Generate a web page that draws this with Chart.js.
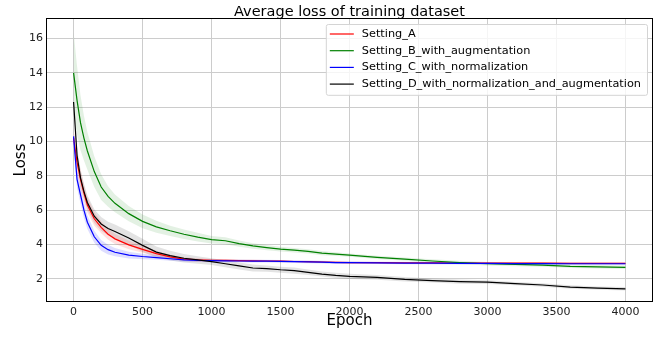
<!DOCTYPE html>
<html>
<head>
<meta charset="utf-8">
<script src="https://cdn.jsdelivr.net/npm/chart.js@4/dist/chart.umd.min.js"></script>
<style>
  html, body { margin: 0; padding: 0; background: #fff; }
</style>
</head>
<body>
<canvas id="lossChart" width="661" height="337"></canvas>
<script>
// values
const epochs = [0, 25, 50, 75, 100, 150, 200, 250, 300,
    400, 500, 600, 700, 800, 900, 1000, 1100, 1200, 1300, 1400, 1500, 1600, 1700, 1800, 1900, 2000,
    2200, 2400, 2600, 2800, 3000, 3200, 3400, 3600, 3800, 4000];

const lossA = [10.2, 8.8, 7.8, 7.0, 6.3, 5.5, 5.0, 4.6, 4.33,
    3.98, 3.72, 3.47, 3.28, 3.15, 3.1, 3.08, 3.07, 3.06, 3.05, 3.04, 3.03, 3.01, 3.0, 2.98, 2.96, 2.95,
    2.94, 2.93, 2.93, 2.92, 2.92, 2.91, 2.91, 2.9, 2.9, 2.9];
const lossB = [14.0, 12.4, 11.1, 10.2, 9.45, 8.25, 7.35, 6.8, 6.4,
    5.8, 5.35, 5.03, 4.8, 4.6, 4.43, 4.28, 4.22, 4.05, 3.92, 3.82, 3.73, 3.67, 3.6, 3.5, 3.44, 3.38,
    3.25, 3.15, 3.04, 2.95, 2.88, 2.84, 2.8, 2.73, 2.7, 2.67];
const lossC = [10.3, 7.8, 6.9, 6.0, 5.3, 4.45, 3.95, 3.7, 3.55,
    3.38, 3.3, 3.24, 3.17, 3.1, 3.07, 3.06, 3.05, 3.04, 3.03, 3.03, 3.02, 3.0, 2.99, 2.97, 2.95, 2.94,
    2.93, 2.92, 2.91, 2.9, 2.9, 2.89, 2.89, 2.88, 2.88, 2.88];
const lossD = [12.3, 9.2, 7.9, 7.1, 6.45, 5.65, 5.2, 4.93, 4.76,
    4.38, 3.95, 3.56, 3.35, 3.2, 3.1, 3.0, 2.88, 2.75, 2.63, 2.6, 2.53, 2.48, 2.38, 2.28, 2.2, 2.14,
    2.08, 1.97, 1.9, 1.84, 1.81, 1.72, 1.64, 1.52, 1.46, 1.42];

// half width of the shaded band around each curve
const spreadA = [0.6, 0.6, 0.55, 0.5, 0.45, 0.4, 0.35, 0.32, 0.3,
    0.25, 0.2, 0.16, 0.13, 0.11, 0.1, 0.08, 0.08, 0.07, 0.07, 0.06, 0.06, 0.06, 0.06, 0.06, 0.06, 0.06,
    0.05, 0.05, 0.05, 0.05, 0.05, 0.05, 0.05, 0.05, 0.05, 0.05];
const spreadB = [2.4, 2.0, 1.6, 1.3, 1.1, 0.9, 0.75, 0.6, 0.52,
    0.45, 0.4, 0.35, 0.3, 0.28, 0.25, 0.22, 0.2, 0.18, 0.16, 0.15, 0.14, 0.13, 0.12, 0.12, 0.11, 0.1,
    0.1, 0.1, 0.1, 0.1, 0.1, 0.1, 0.1, 0.1, 0.1, 0.1];
const spreadC = [0.5, 0.5, 0.5, 0.45, 0.4, 0.35, 0.32, 0.28, 0.24,
    0.2, 0.16, 0.13, 0.11, 0.1, 0.09, 0.09, 0.08, 0.08, 0.08, 0.08, 0.08, 0.08, 0.08, 0.08, 0.08, 0.08,
    0.07, 0.07, 0.07, 0.07, 0.07, 0.07, 0.07, 0.07, 0.07, 0.07];
const spreadD = [0.3, 0.5, 0.5, 0.45, 0.42, 0.4, 0.4, 0.4, 0.4,
    0.4, 0.38, 0.32, 0.28, 0.25, 0.22, 0.2, 0.2, 0.2, 0.2, 0.18, 0.18, 0.18, 0.16, 0.15, 0.15, 0.15,
    0.14, 0.13, 0.12, 0.12, 0.11, 0.1, 0.1, 0.1, 0.1, 0.1];

const seriesNames = ['Setting_A', 'Setting_B_with_augmentation', 'Setting_C_with_normalization',
    'Setting_D_with_normalization_and_augmentation'];
const xTicks = [0, 500, 1000, 1500, 2000, 2500, 3000, 3500, 4000];
const yTicks = [2, 4, 6, 8, 10, 12, 14, 16];
const titleText = 'Average loss of training dataset';

const styles = [
  { line: '#ff0000', band: 'rgba(255, 0, 0, 0.12)' },
  { line: '#008000', band: 'rgba(0, 128, 0, 0.11)' },
  { line: '#0000ff', band: 'rgba(0, 0, 255, 0.13)' },
  { line: '#000000', band: 'rgba(0, 0, 0, 0.11)' }
];
const FONT = '"DejaVu Sans", "Liberation Sans", sans-serif';

const allLoss = [lossA, lossB, lossC, lossD];
const allSpread = [spreadA, spreadB, spreadC, spreadD];

const datasets = [];
allLoss.forEach((vals, k) => {
  const sp = allSpread[k];
  datasets.push({
    label: 'band_hi', data: epochs.map((e, i) => ({ x: e, y: vals[i] + sp[i] })),
    borderWidth: 0, pointRadius: 0, fill: '+1', backgroundColor: styles[k].band, order: 10
  });
  datasets.push({
    label: 'band_lo', data: epochs.map((e, i) => ({ x: e, y: vals[i] - sp[i] })),
    borderWidth: 0, pointRadius: 0, fill: false, order: 10
  });
});
allLoss.forEach((vals, k) => {
  datasets.push({
    label: seriesNames[k], data: epochs.map((e, i) => ({ x: e, y: vals[i] })),
    borderColor: styles[k].line, borderWidth: 1.2, pointRadius: 0, fill: false,
    order: 4 - k
  });
});

// frame, title and the in-plot legend
const framePlugin = {
  id: 'framePlugin',
  afterDraw(chart) {
    const { ctx, chartArea: a } = chart;
    ctx.save();
    ctx.strokeStyle = '#000';
    ctx.lineWidth = 1;
    ctx.strokeRect(a.left + 0.5, a.top + 0.5, a.right - a.left - 1, a.bottom - a.top - 1);

    ctx.fillStyle = '#000';
    ctx.font = '14.5px ' + FONT;
    ctx.textAlign = 'center';
    ctx.textBaseline = 'alphabetic';
    ctx.fillText(titleText, (a.left + a.right) / 2, a.top - 2);

    ctx.font = '11.3px ' + FONT;
    let maxW = 0;
    seriesNames.forEach(n => { maxW = Math.max(maxW, ctx.measureText(n).width); });
    const boxW = 36 + maxW + 6;
    const boxL = a.right - 6 - boxW;
    const boxT = a.top + 6;
    const rowH = 16.7;
    const boxH = rowH * 4 + 4;
    ctx.fillStyle = 'rgba(255,255,255,0.8)';
    ctx.strokeStyle = '#d4d4d4';
    ctx.beginPath();
    ctx.roundRect(boxL + 0.5, boxT + 0.5, boxW, boxH, 2);
    ctx.fill();
    ctx.stroke();
    ctx.textAlign = 'left';
    ctx.textBaseline = 'middle';
    seriesNames.forEach((n, i) => {
      const y = boxT + 10 + i * rowH;
      ctx.strokeStyle = styles[i].line;
      ctx.lineWidth = 1.2;
      ctx.beginPath();
      ctx.moveTo(boxL + 4, y);
      ctx.lineTo(boxL + 28, y);
      ctx.stroke();
      ctx.fillStyle = '#000';
      ctx.fillText(n, boxL + 36, y);
    });
    ctx.restore();
  }
};

new Chart(document.getElementById('lossChart').getContext('2d'), {
  type: 'line',
  data: { datasets },
  plugins: [framePlugin],
  options: {
    responsive: false,
    animation: false,
    layout: { padding: { top: 18, right: 8, left: 0, bottom: 0 } },
    plugins: { legend: { display: false }, title: { display: false }, tooltip: { enabled: false } },
    scales: {
      x: {
        type: 'linear', min: -200, max: 4200,
        afterBuildTicks: s => { s.ticks = xTicks.map(v => ({ value: v })); },
        afterFit: s => { s.height = 35; },
        grid: { color: '#cccccc', lineWidth: 1, drawTicks: false },
        border: { display: false },
        ticks: { padding: 4, color: '#222', font: { family: FONT, size: 11 }, maxRotation: 0,
                 callback: v => String(v) },
        title: { display: true, text: 'Epoch', color: '#000', font: { family: FONT, size: 15 }, padding: { bottom: 7, top: 0 } }
      },
      y: {
        type: 'linear', min: 0.65, max: 17.2,
        afterBuildTicks: s => { s.ticks = yTicks.map(v => ({ value: v })); },
        afterFit: s => { s.width = 46; },
        grid: { color: '#cccccc', lineWidth: 1, drawTicks: false },
        border: { display: false },
        ticks: { padding: 3, color: '#222', font: { family: FONT, size: 11 } },
        title: { display: true, text: 'Loss', color: '#000', font: { family: FONT, size: 15 }, padding: { top: 12, bottom: 0 } }
      }
    }
  }
});
</script>
</body>
</html>
